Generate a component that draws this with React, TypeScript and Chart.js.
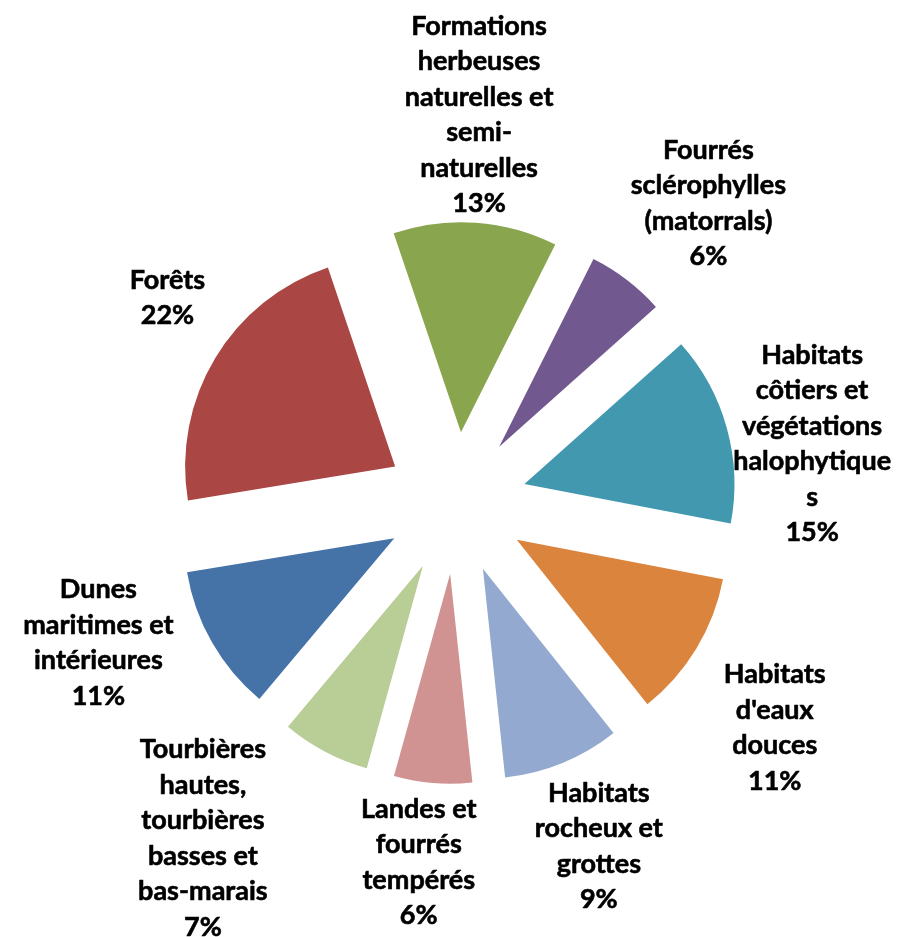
import React, { useEffect, useRef } from "react";
import { Chart, registerables } from "chart.js";

Chart.register(...registerables);

// ---- data ----
const CATEGORIES = [
  "Dunes maritimes et intérieures",
  "Forêts",
  "Formations herbeuses naturelles et semi-naturelles",
  "Fourrés sclérophylles (matorrals)",
  "Habitats côtiers et végétations halophytiques",
  "Habitats d'eaux douces",
  "Habitats rocheux et grottes",
  "Landes et fourrés tempérés",
  "Tourbières hautes, tourbières basses et bas-marais",
];
const VALUES = [11.3, 22.4, 12.6, 6.0, 14.6, 11.3, 9.0, 6.0, 6.8];
const LABEL_LINES = [
  ["Dunes", "maritimes et", "intérieures"],
  ["Forêts"],
  ["Formations", "herbeuses", "naturelles et", "semi-", "naturelles"],
  ["Fourrés", "sclérophylles", "(matorrals)"],
  ["Habitats", "côtiers et", "végétations", "halophytique", "s"],
  ["Habitats", "d'eaux", "douces"],
  ["Habitats", "rocheux et", "grottes"],
  ["Landes et", "fourrés", "tempérés"],
  ["Tourbières", "hautes,", "tourbières", "basses et", "bas-marais"],
];

// ---- style / layout ----
const COLORS = [
  "#4572A7",
  "#AA4643",
  "#89A54E",
  "#71588F",
  "#4198AF",
  "#DB843D",
  "#93A9CF",
  "#D19392",
  "#B9CD96",
];
const EXPLODE = 71;
const LABEL_DIST = [384, 354, 389, 392, 361, 390, 372, 361, 420];
const LABEL_SHIFT_DEG = [8.3, 4.4, -0.6, 2.6, 6.0, 4.0, -0.3, 1.2, 9.3];
const LINE_H = 35.5;
const FONT = "bold 27px Lato";

const explodePlugin = {
  id: "explode",
  beforeDatasetDraw(chart: any, args: any) {
    const ctx = chart.ctx;
    args.meta.data.forEach((arc: any) => {
      const p = arc.getProps(["startAngle", "endAngle"], true);
      const mid = (p.startAngle + p.endAngle) / 2;
      ctx.save();
      ctx.translate(Math.cos(mid) * EXPLODE, Math.sin(mid) * EXPLODE);
      arc.draw(ctx);
      ctx.restore();
    });
    return false;
  },
};

const labelPlugin = {
  id: "outerLabels",
  afterDatasetsDraw(chart: any) {
    const ctx = chart.ctx;
    const meta = chart.getDatasetMeta(0);
    const total = VALUES.reduce((a, b) => a + b, 0);
    ctx.save();
    ctx.font = FONT;
    ctx.fillStyle = "#000";
    ctx.strokeStyle = "#000";
    ctx.lineWidth = 0.6;
    ctx.lineJoin = "round";
    ctx.textAlign = "center";
    ctx.textBaseline = "middle";
    meta.data.forEach((arc: any, i: number) => {
      const p = arc.getProps(["x", "y", "startAngle", "endAngle"], true);
      const mid = (p.startAngle + p.endAngle) / 2 + (LABEL_SHIFT_DEG[i] * Math.PI) / 180;
      const cx = p.x + Math.cos(mid) * LABEL_DIST[i];
      const cy = p.y + Math.sin(mid) * LABEL_DIST[i];
      const lines = [...LABEL_LINES[i], Math.round((VALUES[i] / total) * 100) + "%"];
      const n = lines.length;
      lines.forEach((t, k) => {
        const ty = cy + (k - (n - 1) / 2) * LINE_H;
        ctx.fillText(t, cx, ty);
        ctx.strokeText(t, cx, ty);
      });
    });
    ctx.restore();
  },
};

export default function App() {
  const ref = useRef<HTMLCanvasElement | null>(null);
  useEffect(() => {
    if (!ref.current) return;
    const chart = new Chart(ref.current, {
      type: "pie",
      data: {
        labels: CATEGORIES,
        datasets: [
          {
            data: VALUES,
            backgroundColor: COLORS,
            borderWidth: 0,
          },
        ],
      },
      options: {
        responsive: false,
        animation: false,
        rotation: 220,
        radius: 210,
        layout: { padding: { left: 12, top: 69, right: 0, bottom: 0 } },
        plugins: {
          legend: { display: false },
          tooltip: { enabled: false },
        },
      } as any,
      plugins: [explodePlugin, labelPlugin],
    });
    return () => chart.destroy();
  }, []);
  return (
    <div style={{ position: "absolute", left: 0, top: 0, width: 900, height: 937, background: "#fff" }}>
      <canvas ref={ref} width={900} height={937} style={{ display: "block" }} />
    </div>
  );
}
